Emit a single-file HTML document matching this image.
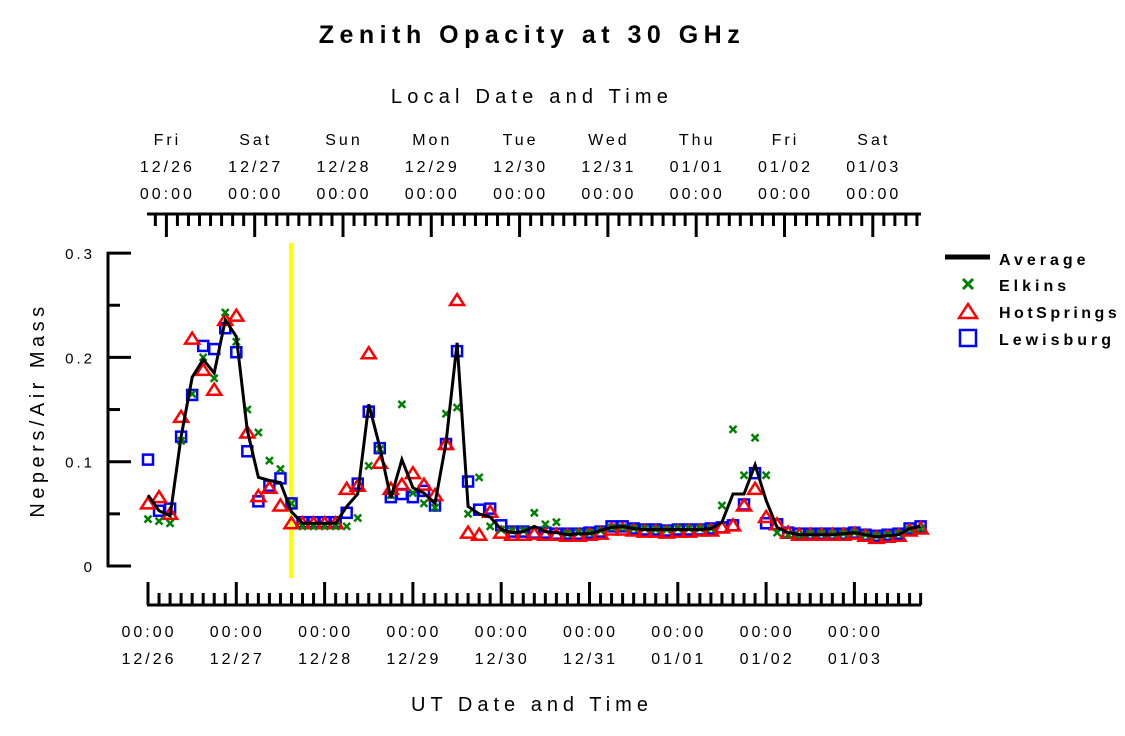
<!DOCTYPE html>
<html><head><meta charset="utf-8"><style>
html,body{margin:0;padding:0;background:#fff;}
svg text{font-family:"Liberation Sans",sans-serif;fill:#000;}
</style></head><body>
<svg id="chart" width="1125" height="731" viewBox="0 0 1125 731" xmlns="http://www.w3.org/2000/svg">
<text x="532" y="43" text-anchor="middle" font-size="25" font-weight="bold" letter-spacing="5.5">Zenith Opacity at 30 GHz</text>
<text x="532" y="103" text-anchor="middle" font-size="20" letter-spacing="5.2">Local Date and Time</text>
<text x="532" y="711" text-anchor="middle" font-size="20" letter-spacing="5">UT Date and Time</text>
<text transform="translate(44,410) rotate(-90)" text-anchor="middle" font-size="20" letter-spacing="4.5">Nepers/Air Mass</text>
<g id="axes"></g>
<line x1="291" y1="243" x2="291" y2="578" stroke="#ffff00" stroke-width="4"/>
<g id="marks"></g>
<g id="legend">
<line x1="945" y1="257" x2="990" y2="257" stroke="#000" stroke-width="5"/>
<text x="999" y="265" font-size="16" font-weight="bold" letter-spacing="4">Average</text>
<path d="M963,279 L973,289 M973,279 L963,289" stroke="#008000" stroke-width="3"/>
<text x="999" y="291" font-size="16" font-weight="bold" letter-spacing="4">Elkins</text>
<path d="M968,304 L977,318 L959,318 Z" fill="none" stroke="#ff0000" stroke-width="2.5"/>
<text x="999" y="318" font-size="16" font-weight="bold" letter-spacing="3.5">HotSprings</text>
<rect x="960" y="330" width="16" height="16" fill="none" stroke="#0000ff" stroke-width="2.5"/>
<text x="999" y="345" font-size="16" font-weight="bold" letter-spacing="4">Lewisburg</text>
</g>
</svg>
<script>
const yTicks = [0, 0.1, 0.2, 0.3];
const yTickLabels = ["0", "0.1", "0.2", "0.3"];
const utDates = ["12/26","12/27","12/28","12/29","12/30","12/31","01/01","01/02","01/03"];
const localDays = ["Fri","Sat","Sun","Mon","Tue","Wed","Thu","Fri","Sat"];
const localDates = ["12/26","12/27","12/28","12/29","12/30","12/31","01/01","01/02","01/03"];
const average = [0.068,0.053,0.048,0.124,0.181,0.198,0.185,0.236,0.220,0.130,0.085,0.082,0.080,0.052,0.041,0.041,0.041,0.041,0.057,0.069,0.155,0.114,0.065,0.102,0.075,0.070,0.060,0.118,0.214,0.057,0.050,0.047,0.035,0.032,0.033,0.038,0.033,0.032,0.030,0.031,0.031,0.034,0.037,0.038,0.036,0.035,0.035,0.035,0.035,0.035,0.035,0.036,0.042,0.069,0.069,0.097,0.063,0.037,0.032,0.030,0.030,0.030,0.030,0.031,0.032,0.030,0.028,0.029,0.030,0.036,0.038];
const elkins = [0.045,0.043,0.041,0.120,0.165,0.200,0.180,0.243,0.215,0.150,0.128,0.101,0.093,0.060,0.038,0.038,0.038,0.038,0.038,0.046,0.096,0.112,0.068,0.155,0.070,0.060,0.056,0.146,0.152,0.050,0.085,0.038,0.035,0.034,0.034,0.051,0.040,0.042,0.031,0.032,0.032,0.034,0.037,0.037,0.036,0.036,0.035,0.035,0.036,0.036,0.036,0.036,0.058,0.131,0.087,0.123,0.087,0.032,0.030,0.030,0.031,0.031,0.031,0.031,0.032,0.030,0.029,0.030,0.031,0.035,0.036];
const hotSprings = [0.060,0.066,0.050,0.143,0.218,0.188,0.169,0.236,0.240,0.128,0.067,0.075,0.058,0.041,0.041,0.041,0.041,0.041,0.074,0.077,0.204,0.099,0.074,0.078,0.089,0.078,0.068,0.117,0.255,0.032,0.030,0.052,0.032,0.030,0.030,0.031,0.030,0.030,0.029,0.029,0.030,0.031,0.035,0.035,0.034,0.033,0.033,0.032,0.033,0.033,0.034,0.034,0.037,0.039,0.058,0.074,0.047,0.040,0.032,0.030,0.030,0.030,0.030,0.030,0.031,0.029,0.027,0.028,0.029,0.034,0.036];
const lewisburg = [0.102,0.053,0.055,0.124,0.164,0.211,0.208,0.228,0.205,0.110,0.062,0.077,0.084,0.060,0.042,0.042,0.042,0.042,0.051,0.079,0.148,0.113,0.066,0.069,0.066,0.072,0.058,0.117,0.206,0.081,0.054,0.055,0.039,0.033,0.033,0.032,0.032,0.031,0.031,0.031,0.032,0.033,0.038,0.038,0.036,0.035,0.035,0.034,0.035,0.035,0.035,0.036,0.037,0.039,0.059,0.089,0.041,0.040,0.032,0.031,0.031,0.031,0.031,0.031,0.032,0.030,0.029,0.030,0.031,0.036,0.038];

const NS = "http://www.w3.org/2000/svg";
const X0 = 148, DAY = 88.3, STEP_H = 3;
function xOfHour(h){ return X0 + DAY * h / 24; }
function xOfIndex(i){ return xOfHour(i * STEP_H); }
function yOf(v){ return 566 - v * 1043; }
function mk(tag, attrs, parent){ const e = document.createElementNS(NS, tag); for (const k in attrs) e.setAttribute(k, attrs[k]); parent.appendChild(e); return e; }
const axes = document.getElementById("axes");
const marks = document.getElementById("marks");

let yl = mk("line", {x1:108, y1:yOf(0)+1, x2:108, y2:yOf(0.3)-1, stroke:"#000", "stroke-width":3}, axes);


for (let k = 0; k <= 6; k++) {
  const v = k * 0.05, major = k % 2 === 0;
  const t = mk("line", {x1:107, y1:yOf(v), x2: major ? 131 : 120, y2:yOf(v), stroke:"#000", "stroke-width":3}, axes);
  
  
}
yTicks.forEach((v, i) => {
  const t = mk("text", {x:95, y:yOf(v)+6, "text-anchor":"end", "font-size":15, "letter-spacing":"3"}, axes);
  t.textContent = yTickLabels[i];
  
  
});

let bl = mk("line", {x1:147, y1:605, x2:921, y2:605, stroke:"#000", "stroke-width":3}, axes);


for (let h = 0; h <= 210; h += 3) {
  const x = xOfHour(h), major = h % 24 === 0;
  const t = mk("line", {x1:x, y1:605, x2:x, y2: major ? 582 : 593, stroke:"#000", "stroke-width":3}, axes);
  
  
}
utDates.forEach((d, k) => {
  const x = xOfHour(24 * k) + 1;
  const a = mk("text", {x:x, y:637, "text-anchor":"middle", "font-size":16, "letter-spacing":"3"}, axes);
  a.textContent = "00:00";
  
  
  const b = mk("text", {x:x, y:664, "text-anchor":"middle", "font-size":16, "letter-spacing":"3"}, axes);
  b.textContent = d;
  
  
});

let tl = mk("line", {x1:147, y1:214, x2:921, y2:214, stroke:"#000", "stroke-width":3}, axes);


for (let h = 2; h <= 210; h += 3) {
  const x = xOfHour(h), major = (h - 5) % 24 === 0;
  const t = mk("line", {x1:x, y1:214, x2:x, y2: major ? 237 : 226, stroke:"#000", "stroke-width":3}, axes);
  
  
}
localDays.forEach((d, k) => {
  const x = xOfHour(24 * k + 5) + 1;
  const rows = [[d,145,'top-day-label'],[localDates[k],172,'top-date-label'],["00:00",199,'top-time-label']];
  rows.forEach(r => {
    const t = mk("text", {x:x, y:r[1], "text-anchor":"middle", "font-size":16, "letter-spacing":"3"}, axes);
    t.textContent = r[0];
    
    
  });
});

lewisburg.forEach((v, i) => {
  const x = xOfIndex(i), y = yOf(v);
  const r = mk("rect", {x:x-5, y:y-5, width:10, height:10, fill:"none", stroke:"#0000ff", "stroke-width":2.5}, marks);
  
  
});
hotSprings.forEach((v, i) => {
  const x = xOfIndex(i), y = yOf(v);
  const p = mk("path", {d:`M${x},${y-6} L${x+7},${y+5} L${x-7},${y+5} Z`, fill:"none", stroke:"#ff0000", "stroke-width":2.5}, marks);
  
  
});
elkins.forEach((v, i) => {
  const x = xOfIndex(i), y = yOf(v);
  const p = mk("path", {d:`M${x-3.5},${y-3.5} L${x+3.5},${y+3.5} M${x+3.5},${y-3.5} L${x-3.5},${y+3.5}`, stroke:"#008000", "stroke-width":2.5}, marks);
  
  
});
const pts = average.map((v, i) => xOfIndex(i).toFixed(1) + "," + yOf(v).toFixed(1)).join(" ");
const avg = mk("polyline", {points:pts, fill:"none", stroke:"#000", "stroke-width":3, "stroke-linejoin":"miter"}, marks);


</script>
</body></html>
